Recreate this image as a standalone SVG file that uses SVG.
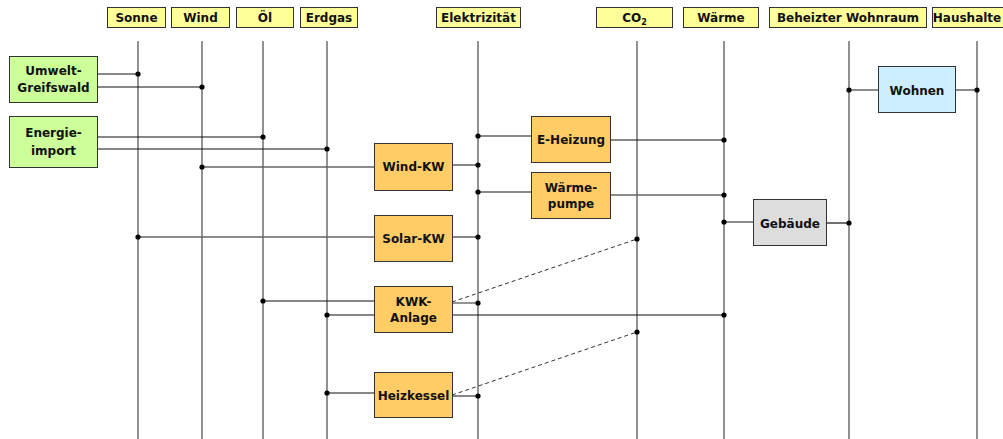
<svg xmlns="http://www.w3.org/2000/svg" width="1003" height="439" viewBox="0 0 1003 439">
<style>
text{font-family:"DejaVu Sans","Liberation Sans",sans-serif;font-weight:bold;font-size:12px;fill:#111;text-anchor:middle}
.hdr{fill:#ffff99;stroke:#333;stroke-width:1}
.bus{stroke:#777;stroke-width:1.6;fill:none}
.k{stroke:#111;stroke-width:1.2;fill:none}
.g{stroke:#666;stroke-width:1.4;fill:none}
.d{stroke:#333;stroke-width:1;stroke-dasharray:4,3;fill:none}
.dot{fill:#000}
.green{fill:#ccff99;stroke:#333}
.orange{fill:#ffcc66;stroke:#333}
.blue{fill:#cceeff;stroke:#333}
.grey{fill:#dddddd;stroke:#333}
</style>
<rect width="1003" height="439" fill="#fff"/>
<g id="headers">
<rect class="hdr" x="107.5" y="7.5" width="58" height="20"/><text x="136.5" y="22">Sonne</text>
<rect class="hdr" x="171.5" y="7.5" width="58" height="20"/><text x="200.5" y="22">Wind</text>
<rect class="hdr" x="236.5" y="7.5" width="57" height="20"/><text x="265" y="22">Öl</text>
<rect class="hdr" x="300.5" y="7.5" width="57" height="20"/><text x="329" y="22">Erdgas</text>
<rect class="hdr" x="436.5" y="7.5" width="84" height="20"/><text x="478.5" y="22">Elektrizität</text>
<rect class="hdr" x="596.5" y="7.5" width="76" height="20"/><text x="634.5" y="22">CO<tspan font-size="8" dy="3">2</tspan></text>
<rect class="hdr" x="683.5" y="7.5" width="75" height="20"/><text x="721" y="22">Wärme</text>
<rect class="hdr" x="769.5" y="7.5" width="157" height="20"/><text x="848" y="22">Beheizter Wohnraum</text>
<rect class="hdr" x="932.5" y="7.5" width="75" height="20"/><text x="967" y="22" font-size="11">Haushalte</text>
</g>
<g id="connectors">
<path class="bus" d="M138 41V439M202 41V439M263 41V439M327 41V439M478 41V439M637 41V439M724 41V439M849 41V439M977 41V439"/>
<path class="k" d="M97 74H138M97 87H202M97 137H263M97 149H327"/>
<path class="g" d="M202 167H374M138 237H374"/>
<path class="k" d="M452 165H478M452 237H478"/>
<path class="g" d="M478 136H531M478 192H531"/>
<path class="k" d="M610 140H724"/>
<path class="g" d="M610 195H724M724 222H753"/>
<path class="k" d="M826 223H849"/>
<path class="g" d="M849 90H878M955 90H977"/>
<path class="k" d="M263 301H374"/>
<path class="k" d="M327 315H374M452 315H724"/>
<path class="g" d="M452 303H478"/>
<path class="k" d="M327 393H374M452 396H478"/>
<path class="d" d="M452 302L637 239M452 395L637 332"/>
<g class="dot">
<circle cx="138" cy="74" r="2.6"/><circle cx="202" cy="87" r="2.6"/>
<circle cx="263" cy="137" r="2.6"/><circle cx="327" cy="149" r="2.6"/>
<circle cx="202" cy="167" r="2.6"/><circle cx="138" cy="237" r="2.6"/>
<circle cx="478" cy="136" r="2.6"/><circle cx="478" cy="165" r="2.6"/><circle cx="478" cy="192" r="2.6"/><circle cx="478" cy="237" r="2.6"/>
<circle cx="724" cy="140" r="2.6"/><circle cx="724" cy="195" r="2.6"/><circle cx="724" cy="222" r="2.6"/>
<circle cx="849" cy="223" r="2.6"/><circle cx="849" cy="90" r="2.6"/><circle cx="977" cy="90" r="2.6"/>
<circle cx="637" cy="239" r="2.6"/><circle cx="637" cy="332" r="2.6"/>
<circle cx="263" cy="301" r="2.6"/><circle cx="327" cy="315" r="2.6"/><circle cx="478" cy="303" r="2.6"/><circle cx="724" cy="315" r="2.6"/>
<circle cx="327" cy="393" r="2.6"/><circle cx="478" cy="396" r="2.6"/>
</g>
</g>
<g id="umwelt"><rect class="green" x="9.5" y="56.5" width="88" height="46"/><text x="53.5" y="75">Umwelt-</text><text x="53.5" y="92">Greifswald</text></g>
<g id="energieimport"><rect class="green" x="9.5" y="116.5" width="88" height="51"/><text x="53.5" y="137">Energie-</text><text x="53.5" y="155">import</text></g>
<g id="windkw"><rect class="orange" x="374.5" y="143.5" width="78" height="47"/><text x="413.5" y="171">Wind-KW</text></g>
<g id="solarkw"><rect class="orange" x="374.5" y="215.5" width="78" height="46"/><text x="413.5" y="243">Solar-KW</text></g>
<g id="eheizung"><rect class="orange" x="531.5" y="116.5" width="79" height="46"/><text x="571" y="144">E-Heizung</text></g>
<g id="waermepumpe"><rect class="orange" x="531.5" y="172.5" width="79" height="46"/><text x="571" y="192">Wärme-</text><text x="571" y="208">pumpe</text></g>
<g id="gebaeude"><rect class="grey" x="753.5" y="199.5" width="73" height="46"/><text x="790" y="228">Gebäude</text></g>
<g id="wohnen"><rect class="blue" x="878.5" y="66.5" width="77" height="46"/><text x="917" y="95">Wohnen</text></g>
<g id="kwk"><rect class="orange" x="374.5" y="286.5" width="78" height="46"/><text x="413.5" y="306">KWK-</text><text x="413.5" y="322">Anlage</text></g>
<g id="heizkessel"><rect class="orange" x="374.5" y="372.5" width="78" height="45"/><text x="413.5" y="400">Heizkessel</text></g>
</svg>
